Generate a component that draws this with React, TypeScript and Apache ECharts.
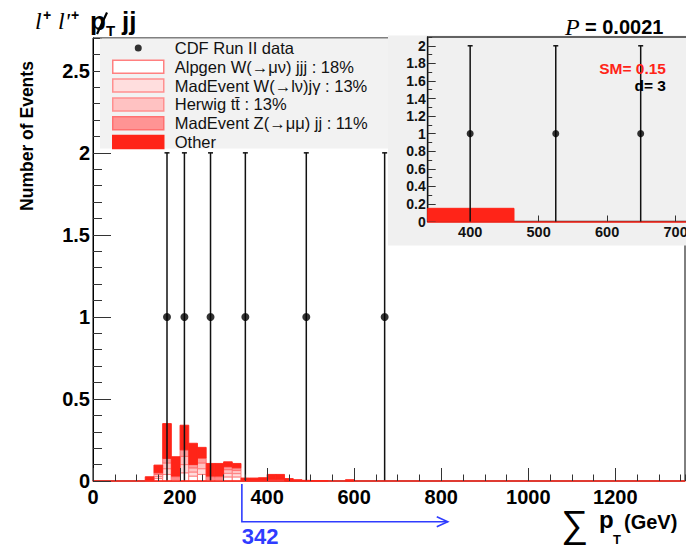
import React, { useEffect, useRef } from "react";
import * as echarts from "echarts";

const SANS = '"Liberation Sans", Arial, Helvetica, sans-serif';
const SERIF = '"Liberation Serif", "Times New Roman", serif';

// ---- main histogram (stacked backgrounds), 20 GeV bins ----
const binLow = [120, 140, 160, 180, 200, 220, 240, 260, 280, 300, 320, 340, 360, 380, 400, 420, 440, 460, 480, 500, 520, 540, 560, 580];
const binWidth = 20;
const alpgenW = [0.002, 0.015, 0.04, 0.01, 0.05, 0.03, 0.04, 0.01, 0.01, 0.025, 0.025, 0.002, 0.002, 0.002, 0.003, 0.003, 0, 0, 0, 0, 0, 0, 0, 0];
const madEventW = [0.001, 0.012, 0.035, 0.007, 0.05, 0.025, 0.035, 0.007, 0.007, 0.022, 0.02, 0.001, 0.001, 0.001, 0.003, 0.003, 0, 0, 0, 0, 0, 0, 0, 0];
const herwigTT = [0.001, 0.013, 0.035, 0.007, 0.05, 0.025, 0.035, 0.007, 0.007, 0.022, 0.02, 0.001, 0.001, 0.001, 0.002, 0.002, 0, 0, 0, 0, 0, 0, 0, 0];
const madEventZ = [0.001, 0.01, 0.028, 0.006, 0.04, 0.02, 0.03, 0.006, 0.006, 0.018, 0.015, 0.001, 0.001, 0.001, 0.002, 0.002, 0, 0, 0, 0, 0, 0, 0, 0];
const otherBkg = [0.021, 0.047, 0.212, 0.118, 0.15, 0.13, 0.065, 0.077, 0.077, 0.03, 0.027, 0.013, 0.013, 0.015, 0.03, 0.03, 0.015, 0.008, 0.004, 0.002, 0.002, 0, 0, 0.008];

// ---- data points ----
const dataSumPt = [170, 210, 270, 350, 490, 670];
const dataCount = [1, 1, 1, 1, 1, 1];
const dataErrLow = [0, 0, 0, 0, 0, 0];
const dataErrHigh = [2, 2, 2, 2, 2, 2];

// ---- inset ----
const insetSumPt = [400, 525, 649];
const insetCount = [1, 1, 1];
const insetErrLow = [0, 0, 0];
const insetErrHigh = [2, 2, 2];
const insetBinLow = [338];
const insetBinHigh = [464];
const insetSM = [0.15];
const insetXTicks = [400, 500, 600, 700];

// ---- annotations ----
const thresholdSumPt = 342;
const arrowEndSumPt = 815;
const pValueText = "0.0021";
const smText = "SM= 0.15";
const dText = "d= 3";

const N_DATA = "CDF Run II data";
const N_ALP = "Alpgen W(→μν) jjj : 18%";
const N_MADW = "MadEvent W(→lν)jγ : 13%";
const N_HER = "Herwig tt\u0304 : 13%";
const N_MADZ = "MadEvent Z(→μμ) jj : 11%";
const N_OTHER = "Other";

const RED = "#ff2418";
const BLUE = "#2f3cff";

const layers = [
  { name: N_ALP, values: alpgenW, fill: "#ffffff", stroke: "#ff7070", lw: 0.9 },
  { name: N_MADW, values: madEventW, fill: "#ffdcdc", stroke: "#ff7a7a", lw: 0.9 },
  { name: N_HER, values: herwigTT, fill: "#ffc2c2", stroke: "#ff7a7a", lw: 0.9 },
  { name: N_MADZ, values: madEventZ, fill: "#ff9a9a", stroke: "#ff6a6a", lw: 0.9 },
  { name: N_OTHER, values: otherBkg, fill: RED, stroke: RED, lw: 0.9 },
];

function rectRender(fill: string, stroke: string, lw: number) {
  return (_p: any, api: any) => {
    const a = api.coord([api.value(0), api.value(2)]);
    const b = api.coord([api.value(1), api.value(3)]);
    return {
      type: "rect",
      shape: { x: a[0], y: b[1], width: b[0] - a[0], height: a[1] - b[1] },
      style: { fill, stroke, lineWidth: lw },
    };
  };
}

function errRender(_p: any, api: any) {
  const top = api.coord([api.value(0), api.value(2)]);
  const bot = api.coord([api.value(0), api.value(1)]);
  return {
    type: "group",
    children: [
      { type: "line", shape: { x1: top[0], y1: top[1], x2: bot[0], y2: bot[1] }, style: { stroke: "#111", lineWidth: 1.5 } },
      { type: "line", shape: { x1: top[0] - 2.5, y1: top[1], x2: top[0] + 2.5, y2: top[1] }, style: { stroke: "#111", lineWidth: 1.5 } },
    ],
  };
}

const plain = (v: number) => String(v);

export default function App() {
  const ref = useRef<HTMLDivElement>(null);

  useEffect(() => {
    document.body.style.margin = "0";
    const chart = echarts.init(ref.current!, null, { renderer: "svg" });

    const bottoms = binLow.map(() => 0);
    const histSeries = layers.map((layer) => {
      const data: number[][] = [];
      binLow.forEach((lo, i) => {
        const v = layer.values[i];
        if (v > 0) data.push([lo, lo + binWidth, bottoms[i], bottoms[i] + v]);
        bottoms[i] += v;
      });
      return {
        type: "custom",
        name: layer.name,
        xAxisIndex: 0,
        yAxisIndex: 0,
        z: 2,
        itemStyle: { color: layer.fill, borderColor: layer.stroke, borderWidth: 1.2 },
        encode: { x: [0, 1], y: [2, 3] },
        data,
        renderItem: rectRender(layer.fill, layer.stroke, layer.lw),
      };
    });

    const tickStyle = { color: "#333", width: 1 };
    const mainLabel = { fontFamily: SANS, fontWeight: "bold", fontSize: 20, color: "#000" };
    const insetLabel = { fontFamily: SANS, fontWeight: "bold", fontSize: 14.5, color: "#111" };

    const option: any = {
      animation: false,
      grid: [
        { left: 93, top: 38, width: 592, height: 443, show: true, borderColor: "#000", borderWidth: 1, backgroundColor: "transparent", outerBoundsMode: "none" },
        { left: 427.7, top: 37, width: 289, height: 184.5, show: true, borderColor: "#333", borderWidth: 1.5, backgroundColor: "transparent", z: 7, outerBoundsMode: "none" },
      ],
      xAxis: [
        {
          type: "value", gridIndex: 0, min: 0, max: 1360, interval: 200, position: "bottom", z: 3,
          axisLine: { show: true, onZero: false, lineStyle: { color: RED, width: 1.5 } },
          axisTick: { show: true, inside: true, length: 13, lineStyle: tickStyle },
          axisLabel: { ...mainLabel, margin: 6, showMaxLabel: false, formatter: plain },
          splitLine: { show: false },
        },
        {
          type: "value", gridIndex: 0, min: 0, max: 1360, interval: 50, position: "bottom", z: 3,
          axisLine: { show: false },
          axisTick: { show: true, inside: true, length: 6.5, lineStyle: tickStyle },
          axisLabel: { show: false },
          splitLine: { show: false },
        },
        {
          type: "value", gridIndex: 1, min: 338, max: 760, position: "bottom", z: 8,
          axisLine: { show: true, onZero: false, lineStyle: { color: RED, width: 1.5 } },
          axisTick: { show: true, inside: true, length: 6, customValues: insetXTicks, lineStyle: tickStyle },
          axisLabel: { ...insetLabel, margin: 3, customValues: insetXTicks, formatter: plain },
          splitLine: { show: false },
        },
      ],
      yAxis: [
        {
          type: "value", gridIndex: 0, min: 0, max: 2.7, interval: 0.5, position: "left", z: 3,
          axisLine: { show: true, onZero: false, lineStyle: { color: "#000", width: 1 } },
          axisTick: { show: true, inside: true, length: 18, lineStyle: tickStyle },
          axisLabel: { ...mainLabel, margin: 3, showMaxLabel: false },
          splitLine: { show: false },
        },
        {
          type: "value", gridIndex: 0, min: 0, max: 2.7, interval: 0.1, position: "left", z: 3,
          axisLine: { show: false },
          axisTick: { show: true, inside: true, length: 9, lineStyle: tickStyle },
          axisLabel: { show: false },
          splitLine: { show: false },
        },
        {
          type: "value", gridIndex: 1, min: 0, max: 2.1, interval: 0.2, position: "left", z: 8,
          axisLine: { show: true, onZero: false, lineStyle: { color: "#111", width: 1.2 } },
          axisTick: { show: true, inside: true, length: 8, lineStyle: tickStyle },
          axisLabel: { ...insetLabel, fontSize: 14, margin: 2, showMaxLabel: false },
          splitLine: { show: false },
        },
        {
          type: "value", gridIndex: 1, min: 0, max: 2.1, interval: 0.1, position: "left", z: 8,
          axisLine: { show: false },
          axisTick: { show: true, inside: true, length: 4.5, lineStyle: tickStyle },
          axisLabel: { show: false },
          splitLine: { show: false },
        },
      ],
      legend: {
        orient: "vertical",
        left: 112,
        top: 39.5,
        padding: 0,
        itemWidth: 51,
        itemHeight: 13,
        itemGap: 1.8,
        selectedMode: false,
        z: 5,
        textStyle: { fontFamily: SANS, fontSize: 16.5, color: "#111", lineHeight: 15, padding: [0, 0, 0, 6] },
        data: [
          { name: N_DATA, icon: "path://M0,0M102,26M44,13a7,7 0 1,0 14,0a7,7 0 1,0 -14,0Z", itemStyle: { color: "#000", borderWidth: 0 } },
          { name: N_ALP, icon: "rect", itemStyle: { color: "#ffffff", borderColor: "#ff8080", borderWidth: 1.5 } },
          { name: N_MADW, icon: "rect", itemStyle: { color: "#ffdede", borderColor: "#ff9090", borderWidth: 1.5 } },
          { name: N_HER, icon: "rect", itemStyle: { color: "#ffc2c2", borderColor: "#ff9090", borderWidth: 1.5 } },
          { name: N_MADZ, icon: "rect", itemStyle: { color: "#ff9494", borderColor: "#ff7070", borderWidth: 1.5 } },
          { name: N_OTHER, icon: "rect", itemStyle: { color: RED, borderColor: RED, borderWidth: 1.5 } },
        ],
      },
      series: [
        ...histSeries,
        {
          type: "custom", name: "data errors", xAxisIndex: 0, yAxisIndex: 0, z: 3,
          encode: { x: 0, y: [1, 2] },
          data: dataSumPt.map((x, i) => [x, dataErrLow[i], dataErrHigh[i]]),
          renderItem: errRender,
        },
        {
          type: "scatter", name: N_DATA, xAxisIndex: 0, yAxisIndex: 0, z: 4,
          symbol: "circle", symbolSize: 8, itemStyle: { color: "#000" },
          data: dataSumPt.map((x, i) => [x, dataCount[i]]),
        },
        {
          type: "custom", name: "inset SM", xAxisIndex: 2, yAxisIndex: 2, z: 9, clip: true,
          encode: { x: [0, 1], y: [2, 3] },
          data: insetBinLow.map((lo, i) => [lo, insetBinHigh[i], 0, insetSM[i]]),
          renderItem: rectRender(RED, RED, 1),
        },
        {
          type: "custom", name: "inset errors", xAxisIndex: 2, yAxisIndex: 2, z: 10,
          encode: { x: 0, y: [1, 2] },
          data: insetSumPt.map((x, i) => [x, insetErrLow[i], insetErrHigh[i]]),
          renderItem: errRender,
        },
        {
          type: "scatter", name: "inset data", xAxisIndex: 2, yAxisIndex: 2, z: 11,
          symbol: "circle", symbolSize: 7, itemStyle: { color: "#000" },
          data: insetSumPt.map((x, i) => [x, insetCount[i]]),
        },
      ],
    };

    chart.setOption(option);

    const thrX = chart.convertToPixel({ xAxisIndex: 0 }, thresholdSumPt) as number;
    const endX = chart.convertToPixel({ xAxisIndex: 0 }, arrowEndSumPt) as number;
    const arrowY = 521.7;
    const txt = (x: number, y: number, text: string, font: string, fill = "#000", align = "left", extra: any = {}) => ({
      type: "text", x, y, z: 20,
      style: { text, font, fill, align, verticalAlign: "middle" },
      ...extra,
    });

    chart.setOption({
      graphic: [
        { type: "rect", z: 4, shape: { x: 100, y: 38.5, width: 295, height: 110 }, style: { fill: "#f2f2f2" } },
        { type: "rect", z: 6, shape: { x: 388, y: 35.5, width: 300, height: 210 }, style: { fill: "#f0f0f0" } },
        // title
        txt(35, 20.5, "l", `italic 24px ${SERIF}`),
        txt(43, 15, "+", `bold 14px ${SANS}`),
        txt(58, 20.5, "l'", `italic 24px ${SERIF}`),
        txt(71, 15, "+", `bold 14px ${SANS}`),
        txt(90, 20.5, "p", `bold 26px ${SANS}`),
        { type: "line", z: 20, shape: { x1: 107, y1: 12.5, x2: 97, y2: 34 }, style: { stroke: "#000", lineWidth: 2.2 } },
        txt(106, 30, "T", `bold 15px ${SANS}`),
        txt(122, 20.5, "jj", `bold 26px ${SANS}`),
        // P value
        txt(565, 27, "P", `italic 24px ${SERIF}`),
        txt(585, 27, "= " + pValueText, `bold 20px ${SANS}`),
        // inset texts
        txt(666, 68, smText, `bold 15.5px ${SANS}`, RED, "right"),
        txt(666, 85, dText, `bold 15.5px ${SANS}`, "#000", "right"),
        // y title
        txt(27, 136, "Number of Events", `bold 17.5px ${SANS}`, "#000", "center", { rotation: Math.PI / 2 }),
        // x title
        txt(561, 524, "∑", `38px ${SANS}`),
        txt(599, 519, "p", `bold 24px ${SANS}`),
        txt(613, 539, "T", `bold 13px ${SANS}`),
        txt(624, 522, "(GeV)", `bold 20px ${SANS}`),
        // threshold arrow
        {
          type: "polyline", z: 20,
          shape: { points: [[thrX, 484], [thrX, arrowY], [endX, arrowY]] },
          style: { stroke: BLUE, lineWidth: 1.6, fill: "none" },
        },
        {
          type: "polyline", z: 20,
          shape: { points: [[endX - 11, arrowY - 5], [endX, arrowY], [endX - 11, arrowY + 5]] },
          style: { stroke: BLUE, lineWidth: 1.6, fill: "none" },
        },
        txt(thrX, 536, String(thresholdSumPt), `bold 22px ${SANS}`, BLUE),
      ],
    });

    return () => chart.dispose();
  }, []);

  return <div ref={ref} style={{ width: 686, height: 550 }} />;
}
